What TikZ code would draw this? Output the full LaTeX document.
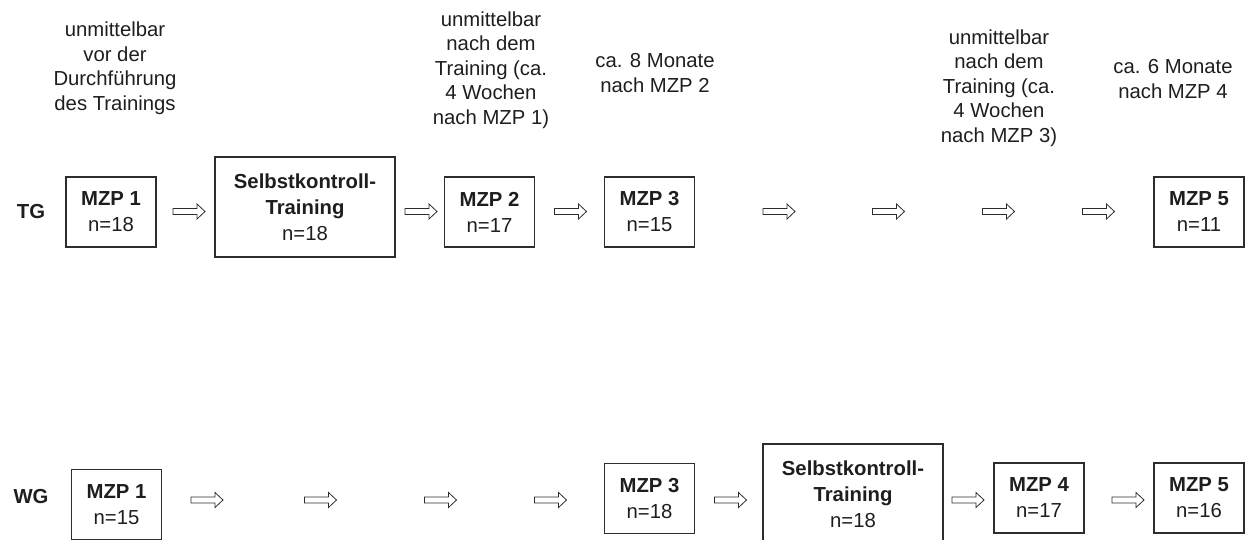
\documentclass[tikz,border=0pt]{standalone}
\usepackage{fontspec}
\setmainfont{Liberation Sans}
\definecolor{ink}{RGB}{30,30,30}
\definecolor{edgecol}{RGB}{45,45,45}
\tikzset{
  every node/.style={text=ink},
  boxfont/.style={font=\fontsize{20.3}{26}\selectfont},
  mzp/.style={boxfont, draw=edgecol, line width=1.4pt, minimum width=90pt, minimum height=70pt, align=center, inner sep=0pt},
  trainbox/.style={mzp, minimum width=180pt, minimum height=100pt},
  note/.style={font=\fontsize{20.3}{24.5}\selectfont, align=center, inner sep=0pt},
  grp/.style={font=\fontsize{20.3}{24.5}\selectfont\bfseries, inner sep=0pt},
  blockarrow/.pic={\draw[edgecol, line width=0.8pt, line join=miter]
     (-16,-3) -- (8,-3) -- (8,-7.5) -- (16,0) -- (8,7.5) -- (8,3) -- (-16,3) -- cycle;}
}
\begin{document}
\begin{tikzpicture}[x=1pt, y=-1pt]
\useasboundingbox (0,0) rectangle (1245,539);
\clip (0,0) rectangle (1245,539);

% ---- TG row ----
\node[grp] (tg) at (31,212) {TG};
\node[mzp] (t1) at (111,212) {\textbf{MZP 1}\\n=18};
\node[trainbox] (tt) at (305,207) {\textbf{Selbstkontroll-}\\\textbf{Training}\\n=18};
\node[mzp] (t2) at (489.5,212) {\textbf{MZP 2}\\n=17};
\node[mzp] (t3) at (649.5,212) {\textbf{MZP 3}\\n=15};
\node[mzp] (t5) at (1199,212) {\textbf{MZP 5}\\n=11};

\coordinate (ta1) at (189,211.5);
\coordinate (ta2) at (421,211.5);
\coordinate (ta3) at (570.5,211.5);
\coordinate (ta4) at (779,211.5);
\coordinate (ta5) at (888.5,211.5);
\coordinate (ta6) at (998.5,211.5);
\coordinate (ta7) at (1098.5,211.5);
\foreach \c in {ta1,ta2,ta3,ta4,ta5,ta6,ta7} \pic at (\c) {blockarrow};

% ---- notes ----
\node[note] (n1) at (115,68) {unmittelbar\\vor der\\Durchführung\\des Trainings};
\node[note] (n2) at (491,70) {unmittelbar\\nach dem\\Training (ca.\\4 Wochen\\nach MZP 1)};
\node[note] (n3) at (655,73) {ca. 8 Monate\\nach MZP 2};
\node[note] (n4) at (999,88) {unmittelbar\\nach dem\\Training (ca.\\4 Wochen\\nach MZP 3)};
\node[note] (n5) at (1173,79) {ca. 6 Monate\\nach MZP 4};

% ---- WG row ----
\node[grp] (wg) at (31,497) {WG};
\node[mzp] (w1) at (116.5,504.5) {\textbf{MZP 1}\\n=15};
\node[mzp] (w3) at (649.5,498.5) {\textbf{MZP 3}\\n=18};
\node[trainbox] (wt) at (853,494) {\textbf{Selbstkontroll-}\\\textbf{Training}\\n=18};
\node[mzp] (w4) at (1039,498) {\textbf{MZP 4}\\n=17};
\node[mzp] (w5) at (1199,498) {\textbf{MZP 5}\\n=16};

\coordinate (wa1) at (207,500);
\coordinate (wa2) at (320.5,500);
\coordinate (wa3) at (440.5,500);
\coordinate (wa4) at (550.5,500);
\coordinate (wa5) at (730.5,500);
\coordinate (wa6) at (968,500);
\coordinate (wa7) at (1128,500);
\foreach \c in {wa1,wa2,wa3,wa4,wa5,wa6,wa7} \pic at (\c) {blockarrow};
\end{tikzpicture}
\end{document}
